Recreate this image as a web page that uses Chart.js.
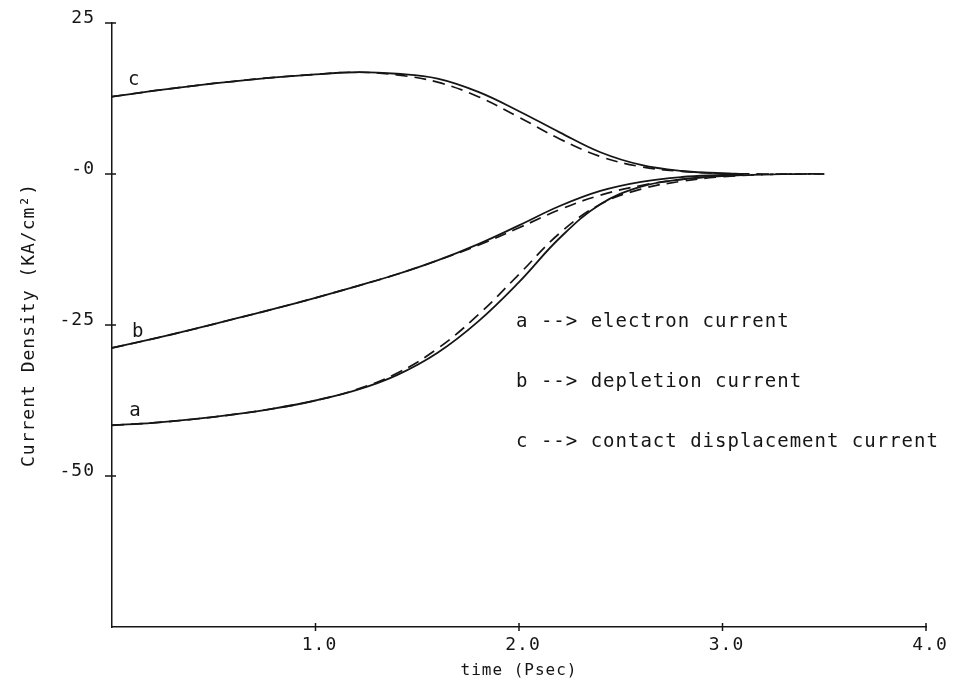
<!DOCTYPE html>
<html>
<head>
<meta charset="utf-8">
<script src="https://cdn.jsdelivr.net/npm/chart.js@4.4.1/dist/chart.umd.min.js"></script>
<style>
  html, body { margin: 0; padding: 0; background: #ffffff; }
  #wrap { width: 953px; height: 686px; }
</style>
</head>
<body>
<div id="wrap"><canvas id="c" width="953" height="686"></canvas></div>
<script>
// ---- data ----
const timeSolid  = [0, 0.2, 0.4, 0.6, 0.8, 1.0, 1.2, 1.4, 1.6, 1.8, 2.0, 2.2, 2.4, 2.6, 2.8, 3.0, 3.1];
const timeDashed = [0, 0.2, 0.4, 0.6, 0.8, 1.0, 1.2, 1.4, 1.6, 1.8, 2.0, 2.2, 2.4, 2.6, 2.8, 3.0, 3.2, 3.4, 3.5];

const aSolid  = [-41.6, -41.2, -40.6, -39.8, -38.8, -37.5, -35.8, -33.3, -29.6, -24.4, -17.9, -10.6, -5.0, -2.1, -0.9, -0.25, 0];
const aDashed = [-41.6, -41.2, -40.6, -39.8, -38.8, -37.5, -35.7, -33.0, -28.9, -23.3, -16.6, -9.8, -5.0, -2.5, -1.2, -0.45, -0.1, 0, 0];

const bSolid  = [-28.8, -27.3, -25.7, -24.0, -22.3, -20.5, -18.6, -16.6, -14.3, -11.6, -8.5, -5.3, -2.8, -1.3, -0.5, -0.15, 0];
const bDashed = [-28.8, -27.3, -25.7, -24.0, -22.3, -20.5, -18.6, -16.6, -14.3, -11.8, -8.9, -5.9, -3.5, -1.9, -0.9, -0.35, -0.1, 0, 0];

const cSolid  = [12.8, 13.75, 14.6, 15.35, 16.0, 16.5, 16.85, 16.6, 15.8, 13.6, 10.4, 6.9, 3.6, 1.5, 0.5, 0.12, 0];
const cDashed = [12.8, 13.75, 14.6, 15.35, 16.0, 16.5, 16.85, 16.4, 15.2, 12.8, 9.4, 5.8, 2.9, 1.2, 0.45, 0.1, 0, 0, 0];

const xTickValues = [1, 2, 3, 4];
const xTickLabels = ['1.0', '2.0', '3.0', '4.0'];
const yTickValues = [25, 0, -25, -50];
const yTickLabels = ['25', '-0', '-25', '-50'];

const curveNames = ['a', 'b', 'c'];
const legendLines = ['a --> electron current', 'b --> depletion current', 'c --> contact displacement current'];

const xTitle = 'time (Psec)';
const yTitle = 'Current Density (KA/cm\u00B2)';

// ---- helpers ----
function pts(xs, ys) { return xs.map((x, i) => ({ x: x, y: ys[i] })); }
const INK = '#151515';
const MONO = '"DejaVu Sans Mono", "Liberation Mono", monospace';

function lineDs(label, xs, ys, dashed) {
  return {
    label: label,
    data: pts(xs, ys),
    borderColor: INK,
    borderWidth: dashed ? 1.7 : 1.8,
    borderDash: dashed ? [12, 7] : [],
    pointRadius: 0,
    fill: false,
    tension: 0.4
  };
}

const letterSpacingPlugin = {
  id: 'spacing',
  beforeDraw(chart) {
    const ctx = chart.ctx;
    ctx.fillStyle = '#ffffff';
    ctx.fillRect(0, 0, chart.width, chart.height);
    try { ctx.letterSpacing = '1px'; } catch (e) {}
  }
};

const decorPlugin = {
  id: 'decor',
  afterDraw(chart) {
    const ctx = chart.ctx;
    const xs = chart.scales.x, ys = chart.scales.y;
    const left = chart.chartArea.left, bottom = chart.chartArea.bottom;
    ctx.save();
    ctx.strokeStyle = INK;
    ctx.lineWidth = 1.5;
    // cross tick marks
    yTickValues.forEach(v => {
      const py = ys.getPixelForValue(v);
      ctx.beginPath(); ctx.moveTo(left - 7, py); ctx.lineTo(left + 4, py); ctx.stroke();
    });
    xTickValues.forEach(v => {
      const px = xs.getPixelForValue(v);
      ctx.beginPath(); ctx.moveTo(px, bottom - 4); ctx.lineTo(px, bottom + 4); ctx.stroke();
    });
    // curve letters
    try { ctx.letterSpacing = '1px'; } catch (e) {}
    ctx.fillStyle = INK;
    ctx.font = '19px ' + MONO;
    ctx.textAlign = 'left';
    ctx.textBaseline = 'alphabetic';
    const letterAt = [[0.085, -40.1], [0.098, -27.0], [0.079, 14.7]];
    curveNames.forEach((n, i) => {
      ctx.fillText(n, xs.getPixelForValue(letterAt[i][0]), ys.getPixelForValue(letterAt[i][1]));
    });
    // legend text block
    legendLines.forEach((t, i) => {
      ctx.fillText(t, 516, 327 + i * 60);
    });
    ctx.restore();
  }
};

new Chart(document.getElementById('c'), {
  type: 'line',
  data: {
    datasets: [
      lineDs('a', timeSolid, aSolid, false),
      lineDs('a (dashed)', timeDashed, aDashed, true),
      lineDs('b', timeSolid, bSolid, false),
      lineDs('b (dashed)', timeDashed, bDashed, true),
      lineDs('c', timeSolid, cSolid, false),
      lineDs('c (dashed)', timeDashed, cDashed, true)
    ]
  },
  options: {
    responsive: false,
    animation: false,
    devicePixelRatio: 1,
    layout: { padding: { left: 0, right: 27, top: 23, bottom: 0 } },
    plugins: { legend: { display: false }, tooltip: { enabled: false } },
    scales: {
      x: {
        type: 'linear',
        min: 0, max: 4,
        afterFit(scale) { scale.height = 59; scale.paddingLeft = 0; scale.paddingRight = 0; },
        afterBuildTicks(scale) { scale.ticks = [0].concat(xTickValues).map(v => ({ value: v })); },
        border: { display: true, color: INK, width: 1.5 },
        grid: { display: true, drawOnChartArea: false, drawTicks: false },
        ticks: {
          color: INK,
          font: { family: MONO, size: 18, lineHeight: 1.2 },
          padding: 8,
          labelOffset: 4,
          maxRotation: 0,
          autoSkip: false,
          callback(v) { const i = xTickValues.indexOf(v); return i >= 0 ? xTickLabels[i] : ''; }
        },
        title: {
          display: true, text: xTitle, color: INK,
          font: { family: MONO, size: 16, lineHeight: 1.2 },
          padding: { top: 0, bottom: 6 }
        }
      },
      y: {
        type: 'linear',
        min: -75, max: 25,
        afterFit(scale) { scale.width = 112; scale.paddingTop = 0; scale.paddingBottom = 0; },
        afterBuildTicks(scale) { scale.ticks = [-75].concat(yTickValues.slice().reverse()).map(v => ({ value: v })); },
        border: { display: true, color: INK, width: 1.5 },
        grid: { display: true, drawOnChartArea: false, drawTicks: false },
        ticks: {
          color: INK,
          font: { family: MONO, size: 18, lineHeight: 1.2 },
          padding: 17,
          labelOffset: -5,
          autoSkip: false,
          callback(v) { const i = yTickValues.indexOf(v); return i >= 0 ? yTickLabels[i] : ''; }
        },
        title: {
          display: true, text: yTitle, color: INK,
          font: { family: MONO, size: 18, lineHeight: 1.2 },
          padding: { top: 19, bottom: 0 }
        }
      }
    }
  },
  plugins: [letterSpacingPlugin, decorPlugin]
});
</script>
</body>
</html>
